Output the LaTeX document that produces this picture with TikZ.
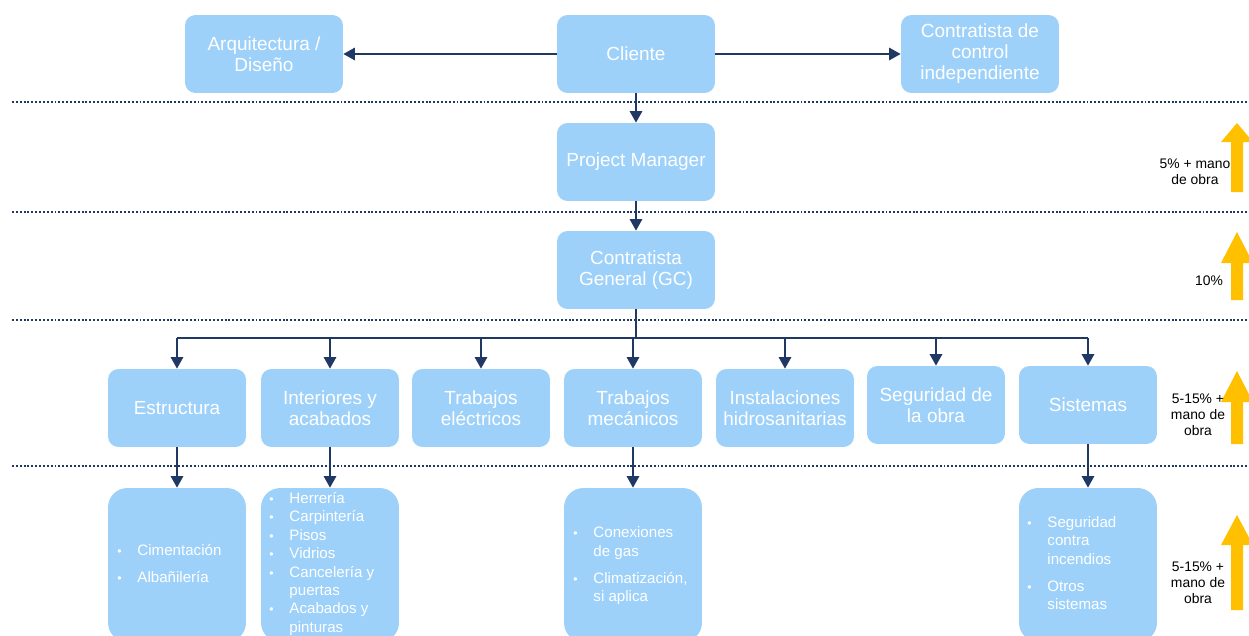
\documentclass[tikz,border=0pt]{standalone}
\usepackage{fontspec}
\setmainfont{Liberation Sans}
\usetikzlibrary{arrows.meta}

\definecolor{boxblue}{RGB}{157,209,250}
\definecolor{navy}{RGB}{31,56,100}
\definecolor{gold}{RGB}{255,192,0}

\begin{document}
\begin{tikzpicture}[
  x=0.02cm, y=-0.02cm,
  box/.style={
    fill=boxblue, rounded corners=6pt,
    minimum width=3.16cm, minimum height=1.56cm,
    text=white, font=\fontsize{10.8}{12}\selectfont,
    align=center, inner sep=2pt
  },
  rowbox/.style={box, minimum width=2.76cm},
  sub/.style={
    fill=boxblue, rounded corners=11pt,
    minimum width=2.76cm, minimum height=3.08cm
  },
  subtxt/.style={
    text=white, font=\fontsize{8.6}{10.5}\selectfont,
    align=left, inner sep=0pt
  },
  pct/.style={font=\fontsize{7.9}{9}\selectfont, align=center, inner sep=0pt},
  arr/.style={-{Triangle[width=7pt,length=6.5pt]}, draw=navy, line width=0.9pt},
  sep/.style={draw=navy, line width=0.9pt, dash pattern=on 1.1pt off 1.1pt},
]
\clip (0,0) rectangle (1249,636);

% separators
\draw[sep] (12,102) -- (1249,102);
\draw[sep] (12,212) -- (1249,212);
\draw[sep] (12,320) -- (1249,320);
\draw[sep] (12,466) -- (1249,466);

% top levels
\node[box] (arq)  at (264,54)  {Arquitectura /\\Diseño};
\node[box] (cli)  at (636,54)  {Cliente};
\node[box] (ctrl) at (980,54)  {Contratista de\\control\\independiente};
\node[box] (pm)   at (636,162) {Project Manager};
\node[box] (gc)   at (636,270) {Contratista\\General (GC)};

% trades
\node[rowbox] (est)  at (177,408)  {Estructura};
\node[rowbox] (int)  at (330,408)  {Interiores y\\acabados};
\node[rowbox] (ele)  at (481,408)  {Trabajos\\eléctricos};
\node[rowbox] (mec)  at (633,408)  {Trabajos\\mecánicos};
\node[rowbox] (hid)  at (785,408)  {Instalaciones\\hidrosanitarias};
\node[rowbox] (seg)  at (936,405)  {Seguridad de\\la obra};
\node[rowbox] (sis)  at (1088,405) {Sistemas};

% sub boxes
\node[sub] (estS) at (177,565)  {};
\node[sub] (intS) at (330,565)  {};
\node[sub] (mecS) at (633,565)  {};
\node[sub] (sisS) at (1088,565) {};

\node[subtxt, anchor=west] (estL) at (117,565) {%
  \begin{tabular}{@{}l@{\hspace{9pt}}l@{}}
  {\scriptsize\textbullet} & Cimentación\\[5pt]
  {\scriptsize\textbullet} & Albañilería
  \end{tabular}};
\node[subtxt, anchor=north west] (intL) at (269,490) {%
  \begin{tabular}{@{}l@{\hspace{9pt}}l@{}}
  {\scriptsize\textbullet} & Herrería\\
  {\scriptsize\textbullet} & Carpintería\\
  {\scriptsize\textbullet} & Pisos\\
  {\scriptsize\textbullet} & Vidrios\\
  {\scriptsize\textbullet} & Cancelería y\\
   & puertas\\
  {\scriptsize\textbullet} & Acabados y\\
   & pinturas
  \end{tabular}};
\node[subtxt, anchor=west] (mecL) at (573,566) {%
  \begin{tabular}{@{}l@{\hspace{9pt}}l@{}}
  {\scriptsize\textbullet} & Conexiones\\
   & de gas\\[5pt]
  {\scriptsize\textbullet} & Climatización,\\
   & si aplica
  \end{tabular}};
\node[subtxt, anchor=west] (sisL) at (1027,565) {%
  \begin{tabular}{@{}l@{\hspace{9pt}}l@{}}
  {\scriptsize\textbullet} & Seguridad\\
   & contra\\
   & incendios\\[5pt]
  {\scriptsize\textbullet} & Otros\\
   & sistemas
  \end{tabular}};

% connectors
\draw[arr] (cli) -- (arq);
\draw[arr] (cli) -- (ctrl);
\draw[arr] (cli) -- (pm);
\draw[arr] (pm) -- (gc);

\coordinate (bus) at (636,338);
\draw[navy, line width=1.2pt] (gc.south) -- (bus);
\draw[navy, line width=1.2pt] (est.north |- bus) -- (sis.north |- bus);
\draw[arr] (est.north |- bus) -- (est.north);
\draw[arr] (int.north |- bus) -- (int.north);
\draw[arr] (ele.north |- bus) -- (ele.north);
\draw[arr] (mec.north |- bus) -- (mec.north);
\draw[arr] (hid.north |- bus) -- (hid.north);
\draw[arr] (seg.north |- bus) -- (seg.north);
\draw[arr] (sis.north |- bus) -- (sis.north);

\draw[arr] (est) -- (estS);
\draw[arr] (int) -- (intS);
\draw[arr] (mec) -- (mecS);
\draw[arr] (sis) -- (sisS);

% margin arrows
\fill[gold] (1237,123) -- (1253,142) -- (1243,142) -- (1243,192) -- (1231,192) -- (1231,142) -- (1221,142) -- cycle;
\fill[gold] (1237,232) -- (1253,263) -- (1243,263) -- (1243,300) -- (1231,300) -- (1231,263) -- (1221,263) -- cycle;
\fill[gold] (1237,371) -- (1253,402) -- (1243,402) -- (1243,444) -- (1231,444) -- (1231,402) -- (1221,402) -- cycle;
\fill[gold] (1237,515) -- (1253,545) -- (1243,545) -- (1243,610) -- (1231,610) -- (1231,545) -- (1221,545) -- cycle;

\node[pct] (p1) at (1195,172) {5\% + mano\\de obra};
\node[pct] (p2) at (1209,281) {10\%};
\node[pct] (p3) at (1198,415) {5-15\% +\\mano de\\obra};
\node[pct] (p4) at (1198,583) {5-15\% +\\mano de\\obra};

\end{tikzpicture}
\end{document}
